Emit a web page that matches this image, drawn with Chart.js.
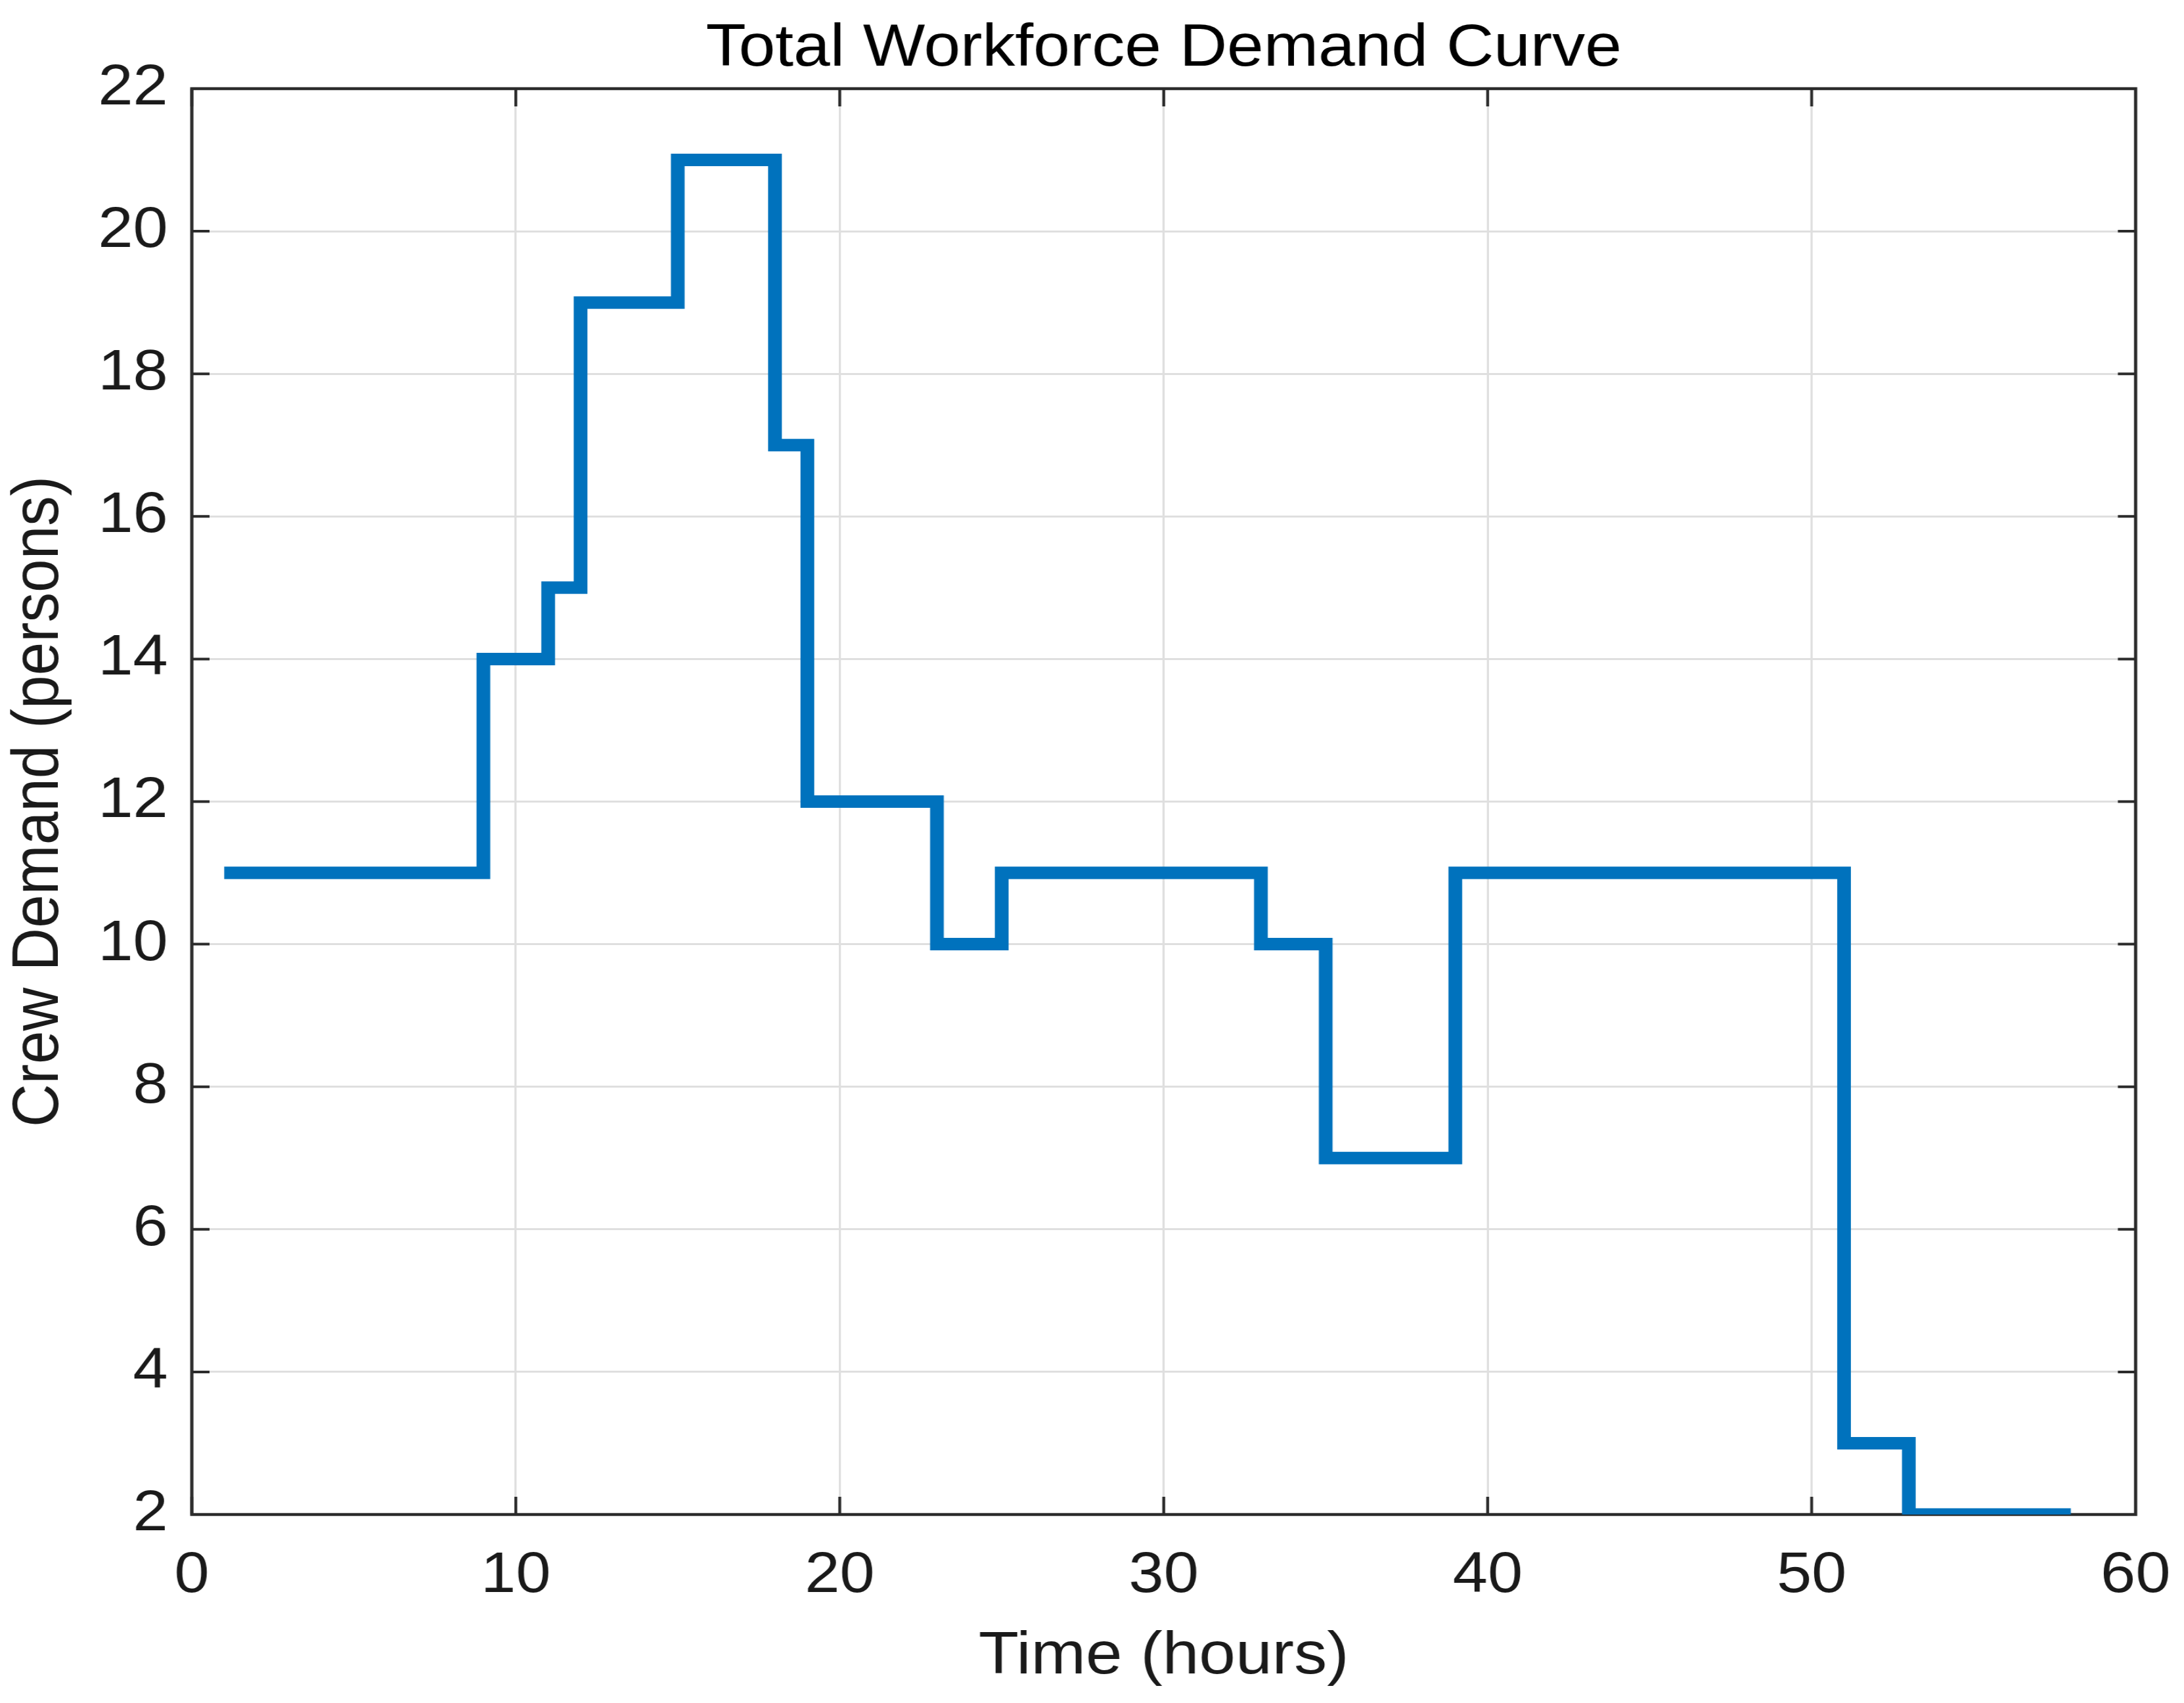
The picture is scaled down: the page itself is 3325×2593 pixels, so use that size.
<!DOCTYPE html>
<html>
<head>
<meta charset="utf-8">
<script src="https://cdn.jsdelivr.net/npm/chart.js@4.4.1/dist/chart.umd.min.js"></script>
<style>
  html, body { margin: 0; padding: 0; background: #ffffff; overflow: hidden; }
  #wrap { width: 3023px; height: 2593px; transform-origin: 0 0; transform: scaleX(1.0999); }
</style>
</head>
<body>
<div id="wrap"><canvas id="c" width="3023" height="2593"></canvas></div>
<script>
// ---- Data ----
const chartTitle = 'Total Workforce Demand Curve';
const xAxisLabel = 'Time (hours)';
const yAxisLabel = 'Crew Demand (persons)';
const timeHours = [1, 9, 11, 12, 15, 18, 19, 23, 25, 33, 35, 39, 51, 53, 58];
const crewDemand = [11, 14, 15, 19, 21, 17, 12, 10, 11, 10, 7, 11, 3, 2, 2];
const xTicks = [0, 10, 20, 30, 40, 50, 60];
const yTicks = [2, 4, 6, 8, 10, 12, 14, 16, 18, 20, 22];

// The reference picture is stretched horizontally (~1.1x); the canvas is drawn
// at 3023 px wide and widened by CSS to 3325 px.
const FONT = '"Liberation Sans", Arial, Helvetica, sans-serif';
const H = 2593;
const PLOT_LEFT = 265.5, PLOT_BOTTOM = 2306;

const points = timeHours.map((t, i) => ({ x: t, y: crewDemand[i] }));

const bgPlugin = {
  id: 'bg',
  beforeDraw(chart) {
    const ctx = chart.ctx;
    ctx.save();
    ctx.fillStyle = '#ffffff';
    ctx.fillRect(0, 0, chart.width, chart.height);
    ctx.restore();
  }
};

const boxPlugin = {
  id: 'box',
  beforeDatasetsDraw(chart) {
    const ctx = chart.ctx;
    const a = chart.chartArea;
    const xs = chart.scales.x, ys = chart.scales.y;
    const tlV = 27, tlH = 24.5;
    ctx.save();
    ctx.strokeStyle = '#2b2b2b';
    ctx.lineWidth = 4;
    ctx.beginPath();
    xs.ticks.forEach(t => {
      const px = xs.getPixelForValue(t.value);
      ctx.moveTo(px, a.bottom); ctx.lineTo(px, a.bottom - tlV);
      ctx.moveTo(px, a.top); ctx.lineTo(px, a.top + tlV);
    });
    ys.ticks.forEach(t => {
      const py = ys.getPixelForValue(t.value);
      ctx.moveTo(a.left, py); ctx.lineTo(a.left + tlH, py);
      ctx.moveTo(a.right, py); ctx.lineTo(a.right - tlH, py);
    });
    ctx.stroke();
    ctx.lineWidth = 4.5;
    ctx.strokeRect(a.left, a.top, a.right - a.left, a.bottom - a.top);
    ctx.restore();
  }
};

new Chart(document.getElementById('c'), {
  type: 'line',
  data: {
    datasets: [{
      data: points,
      stepped: 'before',
      borderColor: '#0072BD',
      backgroundColor: '#0072BD',
      borderWidth: 19,
      borderCapStyle: 'butt',
      borderJoinStyle: 'miter',
      pointRadius: 0,
      fill: false
    }]
  },
  options: {
    responsive: false,
    animation: false,
    devicePixelRatio: 1,
    layout: { padding: { left: 0, right: 67, top: 0, bottom: 0 } },
    plugins: {
      legend: { display: false },
      tooltip: { enabled: false },
      title: {
        display: true,
        text: chartTitle,
        fullSize: false,
        color: '#000000',
        font: { family: FONT, size: 91, weight: 'normal', lineHeight: 1.2 },
        padding: { top: 20.4, bottom: 5.4 }
      }
    },
    scales: {
      x: {
        type: 'linear',
        min: 0, max: 60,
        afterBuildTicks(scale) { scale.ticks = xTicks.map(v => ({ value: v })); },
        afterFit(scale) {
          scale.height = H - PLOT_BOTTOM;
          scale.paddingLeft = 0;
          scale.paddingRight = 0;
        },
        grid: { color: '#dfdfdf', lineWidth: 3, drawTicks: false },
        border: { display: false },
        ticks: {
          color: '#1a1a1a',
          padding: 42,
          maxRotation: 0,
          font: { family: FONT, size: 87, lineHeight: 1.2 }
        },
        title: {
          display: true,
          text: xAxisLabel,
          color: '#1a1a1a',
          font: { family: FONT, size: 91, lineHeight: 1.2 },
          padding: { top: 0, bottom: 15 }
        }
      },
      y: {
        type: 'linear',
        min: 2, max: 22,
        afterBuildTicks(scale) { scale.ticks = yTicks.map(v => ({ value: v })); },
        afterFit(scale) { scale.width = PLOT_LEFT; },
        grid: { color: '#dfdfdf', lineWidth: 3, drawTicks: false },
        border: { display: false },
        ticks: {
          color: '#1a1a1a',
          padding: 33,
          font: { family: FONT, size: 87, lineHeight: 1.2 }
        },
        title: {
          display: true,
          text: yAxisLabel,
          color: '#1a1a1a',
          font: { family: FONT, size: 91, lineHeight: 1.0 },
          padding: { top: 9, bottom: 0 }
        }
      }
    }
  },
  plugins: [bgPlugin, boxPlugin]
});
</script>
</body>
</html>
